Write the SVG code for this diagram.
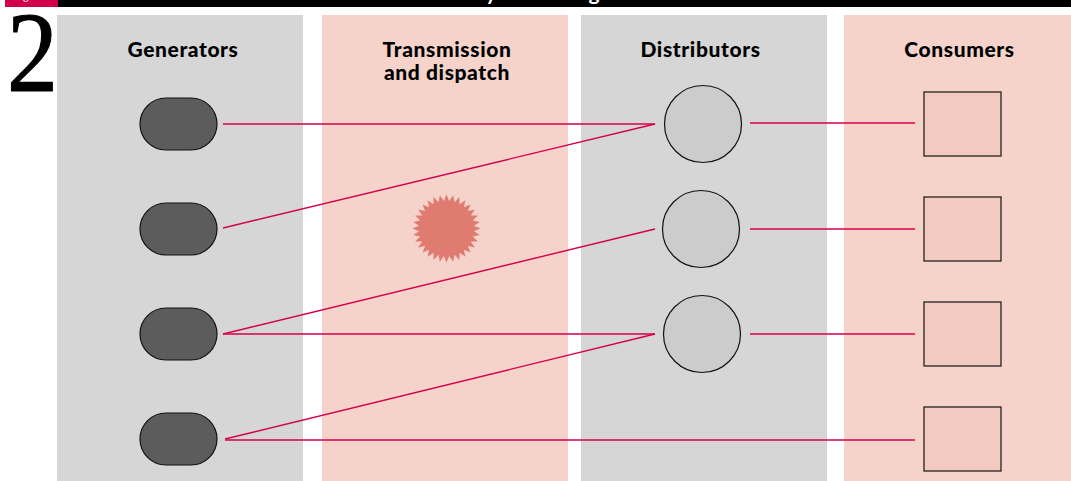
<svg xmlns="http://www.w3.org/2000/svg" width="1071" height="481" viewBox="0 0 1071 481">
<style>
.hd{font-family:"Lato","Liberation Sans",sans-serif;font-weight:900;font-size:21px;fill:#000;text-anchor:middle;letter-spacing:.6px}
.gr{fill:#d6d6d6}.pk{fill:#f5d3ca}
.gen{fill:#5c5c5c;stroke:#111;stroke-width:1.2}
.dis{fill:#cccccc;stroke:#111;stroke-width:1.2}
.con{fill:#f3cabf;stroke:#222;stroke-width:1.3}
.cn{stroke:#d4004c;stroke-width:1.4;fill:none}
.top{font-family:"Lato","Liberation Sans",sans-serif;font-weight:700;font-size:21px;fill:#fff;text-anchor:middle}
</style>
<rect width="1071" height="481" fill="#fff"/>
<rect x="58" y="0" width="1013" height="7" fill="#000"/>
<rect x="5" y="0" width="53" height="7" fill="#d0004b"/>
<text x="26" y="0" font-family="Lato,sans-serif" font-weight="700" font-size="11" fill="#f5c0d0" text-anchor="middle">g</text>
<text class="top" x="491" y="0">y</text>
<text class="top" x="594" y="0">g</text>
<text x="7" y="91" font-family="'Liberation Serif',serif" font-size="115" fill="#000" stroke="#000" stroke-width="1.2" textLength="51" lengthAdjust="spacingAndGlyphs">2</text>
<rect class="gr" x="57" y="15" width="246" height="466"/>
<rect class="pk" x="322" y="15" width="246" height="466"/>
<rect class="gr" x="581" y="15" width="246" height="466"/>
<rect class="pk" x="844" y="15" width="227" height="466"/>
<text class="hd" x="183" y="57">Generators</text>
<text class="hd" x="447" y="57">Transmission</text>
<text class="hd" x="447" y="80">and dispatch</text>
<text class="hd" x="700.500" y="57">Distributors</text>
<text class="hd" x="959.500" y="57">Consumers</text>
<polygon id="fault" fill="#e07b72" transform="translate(446.5 228.5)" points="34,0 27.4,2.7 33.3,6.6 26.3,8 31.4,13 24.3,13 28.3,18.9 21.3,17.4 24,24 17.4,21.3 18.9,28.3 13,24.3 13,31.4 8,26.3 6.6,33.3 2.7,27.4 0,34 -2.7,27.4 -6.6,33.3 -8,26.3 -13,31.4 -13,24.3 -18.9,28.3 -17.4,21.3 -24,24 -21.3,17.4 -28.3,18.9 -24.3,13 -31.4,13 -26.3,8 -33.3,6.6 -27.4,2.7 -34,0 -27.4,-2.7 -33.3,-6.6 -26.3,-8 -31.4,-13 -24.3,-13 -28.3,-18.9 -21.3,-17.4 -24,-24 -17.4,-21.3 -18.9,-28.3 -13,-24.3 -13,-31.4 -8,-26.3 -6.6,-33.3 -2.7,-27.4 0,-34 2.7,-27.4 6.6,-33.3 8,-26.3 13,-31.4 13,-24.3 18.9,-28.3 17.4,-21.3 24,-24 21.3,-17.4 28.3,-18.9 24.3,-13 31.4,-13 26.3,-8 33.3,-6.6 27.4,-2.7"/>
<g id="connectors">
<path class="cn" d="M223 124H655"/>
<path class="cn" d="M223 228L655 124"/>
<path class="cn" d="M750 123H915"/>
<path class="cn" d="M223 334L655 229"/>
<path class="cn" d="M223 334H655"/>
<path class="cn" d="M750 229H915"/>
<path class="cn" d="M225 439L655 334"/>
<path class="cn" d="M750 334H915"/>
<path class="cn" d="M225 440H915"/>
</g>
<g id="gen1"><rect class="gen" x="140" y="98" width="77" height="52" rx="26" ry="26"/></g>
<g id="gen2"><rect class="gen" x="140" y="203" width="77" height="52" rx="26" ry="26"/></g>
<g id="gen3"><rect class="gen" x="140" y="308" width="77" height="52" rx="26" ry="26"/></g>
<g id="gen4"><rect class="gen" x="140" y="413" width="77" height="52" rx="26" ry="26"/></g>
<g id="dist1"><circle class="dis" cx="703" cy="124" r="38.500"/></g>
<g id="dist2"><circle class="dis" cx="701" cy="229" r="38.500"/></g>
<g id="dist3"><circle class="dis" cx="702" cy="334" r="38.500"/></g>
<g id="con1"><rect class="con" x="924" y="92" width="77" height="64"/></g>
<g id="con2"><rect class="con" x="924" y="197" width="77" height="64"/></g>
<g id="con3"><rect class="con" x="924" y="302" width="77" height="64"/></g>
<g id="con4"><rect class="con" x="924" y="407" width="77" height="64"/></g>
</svg>
